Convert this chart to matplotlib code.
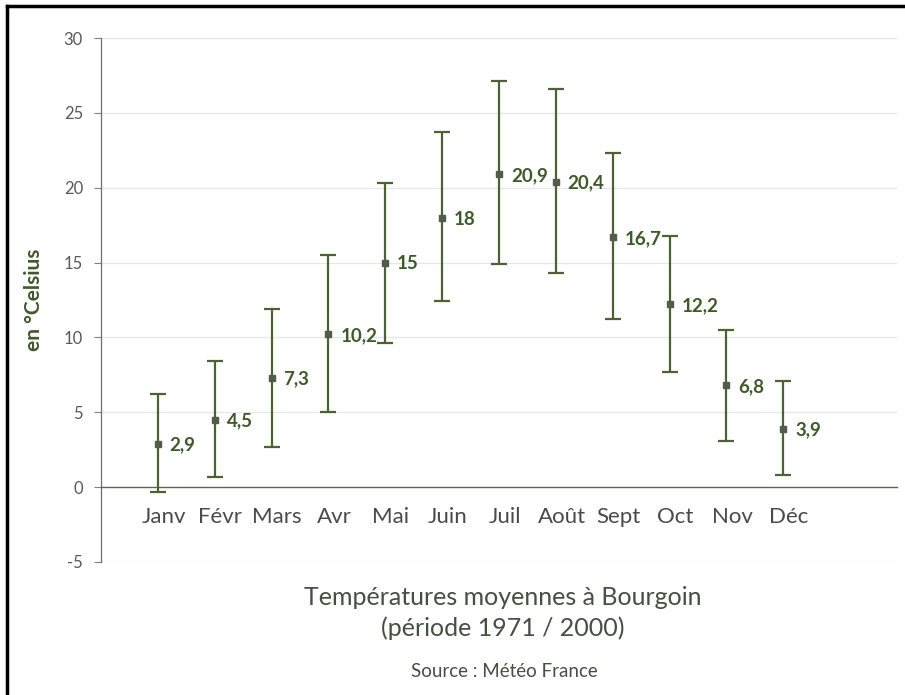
import matplotlib.pyplot as plt
from matplotlib.lines import Line2D
import numpy as np

plt.rcParams["font.family"] = ["Lato", "DejaVu Sans"]

_GREEN = "#4b6232"  # barres d'erreur
_LABEL = "#3f5a2a"  # étiquettes de valeurs
_GREY = "#595959"

months = ["Janv", "Févr", "Mars", "Avr", "Mai", "Juin",
          "Juil", "Août", "Sept", "Oct", "Nov", "Déc"]
t_mean = [2.9, 4.5, 7.3, 10.2, 15, 18, 20.9, 20.4, 16.7, 12.2, 6.8, 3.9]
t_max = [6.2, 8.4, 11.9, 15.5, 20.3, 23.7, 27.1, 26.6, 22.3, 16.8, 10.5, 7.1]
t_min = [-0.3, 0.7, 2.7, 5.0, 9.6, 12.4, 14.9, 14.3, 11.2, 7.7, 3.1, 0.8]
mean_labels = ["2,9", "4,5", "7,3", "10,2", "15", "18",
               "20,9", "20,4", "16,7", "12,2", "6,8", "3,9"]
y_ticks = [-5, 0, 5, 10, 15, 20, 25, 30]

x = np.arange(len(months))
mean = np.array(t_mean)
err = [mean - np.array(t_min), np.array(t_max) - mean]

fig = plt.figure(figsize=(9.05, 6.95), dpi=100)
ax = fig.add_axes([0.1116, 0.1914, 0.8796, 0.7539])

for y in y_ticks:
    if y != 0:
        ax.axhline(y, color="#e6e6e6", lw=0.9, zorder=0)

ax.errorbar(x, mean, yerr=err, fmt="s", ms=3.8, color="#515c4a",
            ecolor=_GREEN, elinewidth=1.6, capsize=6, capthick=1.6, zorder=3)

for xi, yi, lab in zip(x, mean, mean_labels):
    ax.annotate(lab, (xi, yi), xytext=(8.5, -1), textcoords="offset points",
                ha="left", va="center", fontsize=13.5, fontweight="bold",
                color=_LABEL)

ax.set_xlim(-1, 13)
ax.set_ylim(-5, 30)
ax.set_yticks(y_ticks)
ax.set_yticklabels([str(v) for v in y_ticks])
ax.tick_params(axis="y", length=5, width=0.8, color="#7f7f7f",
               labelsize=12, labelcolor=_GREY, pad=8)

ax.spines["top"].set_visible(False)
ax.spines["right"].set_visible(False)
ax.spines["left"].set_color("#6e6e6e")
ax.spines["left"].set_linewidth(0.9)
ax.spines["bottom"].set_position(("data", 0))
ax.spines["bottom"].set_color("#5a6650")
ax.spines["bottom"].set_linewidth(1.0)

ax.set_xticks(x + 0.1)
ax.set_xticklabels(months)
ax.tick_params(axis="x", length=0, labelsize=16, labelcolor="#4a4a4a", pad=14)

ax.set_ylabel("en °Celsius", fontsize=15, fontweight="bold", color=_LABEL)
ax.yaxis.set_label_coords(-0.072, 0.5)

fig.text(0.555, 0.141, "Températures moyennes à Bourgoin", ha="center",
         va="center", fontsize=18, color="#445040")
fig.text(0.555, 0.096, "(période 1971 / 2000)", ha="center", va="center",
         fontsize=18, color="#445040")
fig.text(0.557, 0.034, "Source : Météo France", ha="center", va="center",
         fontsize=13.5, color="#445040")

# cadre (haut et gauche)
fig.add_artist(Line2D([7 / 905, 1], [1 - 5.5 / 695] * 2, color="black",
                      lw=2.5, transform=fig.transFigure))
fig.add_artist(Line2D([7 / 905] * 2, [0, 1 - 5.5 / 695], color="black",
                      lw=2.5, transform=fig.transFigure))

fig.savefig("out.png", dpi=100)
